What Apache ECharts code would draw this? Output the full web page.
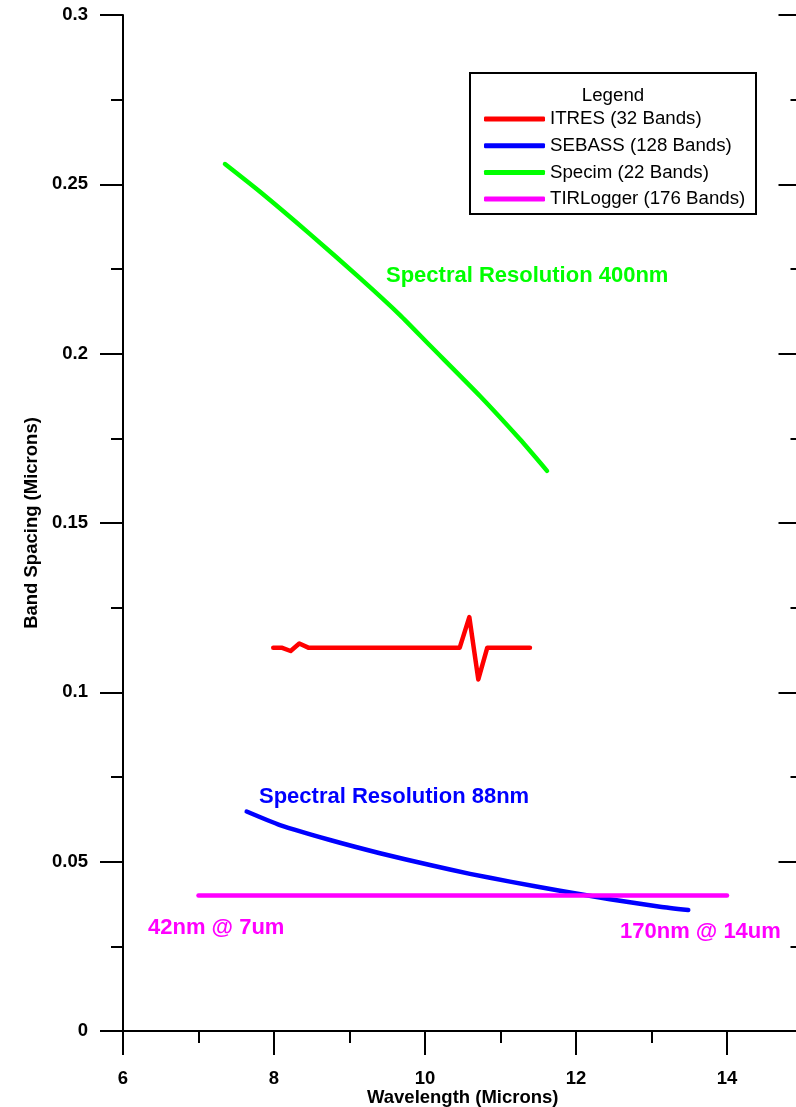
<!DOCTYPE html>
<html>
<head>
<meta charset="utf-8">
<script src="https://cdn.jsdelivr.net/npm/echarts@6/dist/echarts.min.js"></script>
<style>
  html, body { margin: 0; padding: 0; background: #fff; }
  #chart { width: 796px; height: 1107px; }
</style>
</head>
<body>
<div id="chart"></div>
<script>
// values
const itresX = [7.99, 8.10, 8.22, 8.335, 8.454, 10.46, 10.587, 10.706, 10.825, 11.39]
const itresY = [0.1132, 0.1132, 0.1122, 0.1144, 0.1132, 0.1132, 0.1222, 0.1038, 0.1132, 0.1132]

const sebassX = [7.638, 8.079, 8.742, 9.404, 10.066, 10.596, 11.126, 11.788, 12.45, 13.113, 13.487]
const sebassY = [0.0648, 0.0608, 0.0564, 0.0525, 0.0490, 0.0464, 0.0441, 0.0414, 0.0389, 0.0367, 0.0357]

const specimX = [7.351, 7.815, 8.477, 9.139, 9.669, 10.066, 10.728, 11.258, 11.616]
const specimY = [0.2560, 0.2478, 0.2353, 0.2223, 0.2114, 0.2024, 0.1875, 0.1747, 0.1654]

const tirX = [7.0, 14.0]
const tirY = [0.04, 0.04]

const seriesNames = ['ITRES (32 Bands)', 'SEBASS (128 Bands)', 'Specim (22 Bands)', 'TIRLogger (176 Bands)']
const seriesColors = ['#ff0000', '#0000ff', '#00ff00', '#ff00ff']

const xMin = 6, xMax = 15
const yMin = 0, yMax = 0.3

const font = 'Liberation Sans, Arial, sans-serif'
const axisFont = { fontFamily: font, fontWeight: 'bold', fontSize: 18.5, color: '#000' }
const tickStyle = { color: '#000', width: 2 }

function pairs(xs, ys) {
  return xs.map((x, i) => [x, ys[i]])
}

// each side gets two axes: one with long major ticks (+labels), one with short minor ticks
function xAxes() {
  const base = { type: 'value', min: xMin, max: xMax, splitLine: { show: false } }
  return [
    { ...base, position: 'bottom', interval: 2,
      axisLine: { show: true, lineStyle: tickStyle },
      axisTick: { show: true, length: 24, lineStyle: tickStyle },
      axisLabel: { margin: 38, ...axisFont, showMaxLabel: false },
      name: 'Wavelength (Microns)', nameLocation: 'middle', nameGap: 57, nameMoveOverlap: false,
      nameTextStyle: axisFont },
    { ...base, position: 'bottom', interval: 1,
      axisLine: { show: false },
      axisTick: { show: true, length: 12, lineStyle: tickStyle },
      axisLabel: { show: false } },
    { ...base, position: 'top', interval: 2,
      axisLine: { show: true, lineStyle: tickStyle },
      axisTick: { show: true, inside: true, length: 22, lineStyle: tickStyle },
      axisLabel: { show: false } },
    { ...base, position: 'top', interval: 1,
      axisLine: { show: false },
      axisTick: { show: true, inside: true, length: 11, lineStyle: tickStyle },
      axisLabel: { show: false } },
  ]
}

function yAxes() {
  const base = { type: 'value', min: yMin, max: yMax, splitLine: { show: false } }
  return [
    { ...base, position: 'left', interval: 0.05,
      axisLine: { show: true, lineStyle: tickStyle },
      axisTick: { show: true, length: 23, lineStyle: tickStyle },
      axisLabel: { margin: 35, ...axisFont, formatter: (v) => String(+v.toFixed(3)) },
      name: 'Band Spacing (Microns)', nameLocation: 'middle', nameGap: 82, nameRotate: 90, nameMoveOverlap: false,
      nameTextStyle: axisFont },
    { ...base, position: 'left', interval: 0.025,
      axisLine: { show: false },
      axisTick: { show: true, length: 12, lineStyle: tickStyle },
      axisLabel: { show: false } },
    { ...base, position: 'right', interval: 0.05,
      axisLine: { show: true, lineStyle: tickStyle },
      axisTick: { show: true, inside: true, length: 24, lineStyle: tickStyle },
      axisLabel: { show: false } },
    { ...base, position: 'right', interval: 0.025,
      axisLine: { show: false },
      axisTick: { show: true, inside: true, length: 12, lineStyle: tickStyle },
      axisLabel: { show: false } },
  ]
}

const seriesData = [
  pairs(itresX, itresY),
  pairs(sebassX, sebassY),
  pairs(specimX, specimY),
  pairs(tirX, tirY),
]

const chart = echarts.init(document.getElementById('chart'), null, { renderer: 'canvas' })

chart.setOption({
  animation: false,
  backgroundColor: '#fff',
  grid: { left: 123, top: 15, width: 679.5, height: 1016, containLabel: false, outerBoundsMode: 'none' },
  xAxis: xAxes(),
  yAxis: yAxes(),
  legend: {
    orient: 'vertical',
    left: 479,
    top: 104,
    z: 5,
    itemWidth: 61,
    itemHeight: 5,
    itemGap: 6.7,
    icon: 'roundRect',
    data: seriesNames,
    textStyle: { fontFamily: font, fontSize: 18.7, color: '#000', lineHeight: 20 },
  },
  graphic: [
    { type: 'rect', z: 1, shape: { x: 470, y: 73, width: 286, height: 141 },
      style: { fill: '#fff', stroke: '#000', lineWidth: 2 } },
    { type: 'text', z: 2, x: 613, y: 96,
      style: { text: 'Legend', font: '18.7px ' + font, fill: '#000', textAlign: 'center', textVerticalAlign: 'middle' } },
    { type: 'text', x: 386, y: 276,
      style: { text: 'Spectral Resolution 400nm', font: 'bold 22px ' + font, fill: seriesColors[2], textVerticalAlign: 'middle' } },
    { type: 'text', x: 259, y: 797,
      style: { text: 'Spectral Resolution 88nm', font: 'bold 22px ' + font, fill: seriesColors[1], textVerticalAlign: 'middle' } },
    { type: 'text', x: 148, y: 928,
      style: { text: '42nm @ 7um', font: 'bold 22px ' + font, fill: seriesColors[3], textVerticalAlign: 'middle' } },
    { type: 'text', x: 620, y: 932,
      style: { text: '170nm @ 14um', font: 'bold 22px ' + font, fill: seriesColors[3], textVerticalAlign: 'middle' } },
  ],
  series: seriesData.map((data, idx) => ({
    name: seriesNames[idx],
    type: 'line',
    xAxisIndex: 0,
    yAxisIndex: 0,
    data,
    showSymbol: false,
    symbol: 'none',
    smooth: idx === 1 || idx === 2 ? 0.2 : false,
    color: seriesColors[idx],
    lineStyle: { width: 4.5, color: seriesColors[idx], cap: 'round', join: 'round' },
    itemStyle: { color: seriesColors[idx] },
    z: 10,
  })),
})
</script>
</body>
</html>
